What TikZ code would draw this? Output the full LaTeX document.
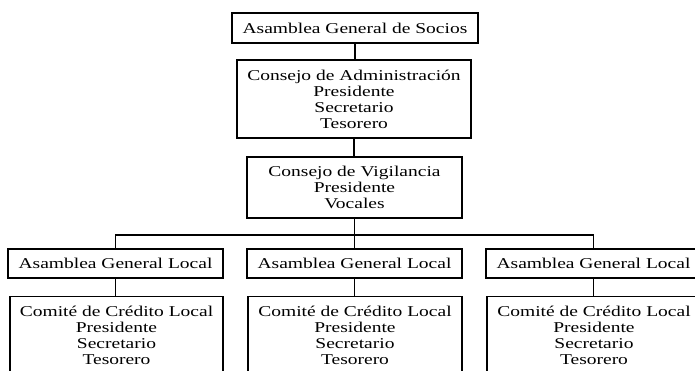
\documentclass[tikz,border=0pt]{standalone}
\usepackage{fontspec}
\setmainfont[FakeStretch=1.3]{Liberation Serif}
\begin{document}
\begin{tikzpicture}[x=1pt,y=1pt,
  box/.style={draw, line width=1.2pt, inner sep=0pt, align=center,
    font=\fontsize{15}{16}\selectfont},
  txt/.style={inner sep=0pt, align=center, font=\fontsize{15}{16}\selectfont},
  conn/.style={line width=1.2pt}]
\useasboundingbox (0,0) rectangle (695,-371);
\clip (0,0) rectangle (695,-371);
\fill[white] (0,0) rectangle (695,-371);
\node[box, minimum width=246, minimum height=30] (soc) at (355,-28) {Asamblea General de Socios};
\node[box, minimum width=234, minimum height=78] (adm) at (354,-99) {Consejo de Administración\\Presidente\\Secretario\\Tesorero};
\node[box, minimum width=215, minimum height=61] (vig) at (354.5,-187.5) {Consejo de Vigilancia\\Presidente\\Vocales};
\coordinate (bus) at (0,-235);
\node[box, minimum width=215, minimum height=29] (loc1) at (115.5,-263.5) {Asamblea General Local};
\node[box, minimum width=215, minimum height=29] (loc2) at (354.5,-263.5) {Asamblea General Local};
\node[box, minimum width=215, minimum height=29] (loc3) at (593.5,-263.5) {Asamblea General Local};
\node[box, anchor=north, minimum width=213, minimum height=110] (com1) at (116.5,-296) {};
\node[box, anchor=north, minimum width=214, minimum height=110] (com2) at (355,-296) {};
\node[box, anchor=north, minimum width=214, minimum height=110] (com3) at (594,-296) {};
\foreach \i in {1,2,3}{
  \node[txt, anchor=north] (t\i) at ([yshift=-10]com\i.north) {Comité de Crédito Local\\Presidente\\Secretario\\Tesorero};
}
\draw[conn] (soc.south) -- (soc.south |- adm.north);
\draw[conn] (adm.south) -- (adm.south |- vig.north);
\draw[conn] (vig.south) -- (vig.south |- bus);
\draw[conn] (loc1.north) -- (loc1.north |- bus) -- (loc3.north |- bus) -- (loc3.north);
\draw[conn] (loc2.north) -- (loc2.north |- bus);
\foreach \i in {1,2,3}{
  \draw[conn] (loc\i.south) -- (loc\i.south |- com\i.north);
}
\end{tikzpicture}
\end{document}
